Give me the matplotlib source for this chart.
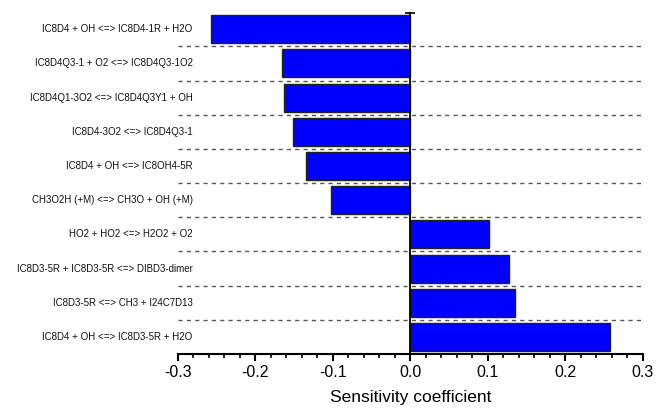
import matplotlib.pyplot as plt
from matplotlib.ticker import MultipleLocator

# reactions, top to bottom
reactions = [
    "IC8D4 + OH <=> IC8D4-1R + H2O",
    "IC8D4Q3-1 + O2 <=> IC8D4Q3-1O2",
    "IC8D4Q1-3O2 <=> IC8D4Q3Y1 + OH",
    "IC8D4-3O2 <=> IC8D4Q3-1",
    "IC8D4 + OH <=> IC8OH4-5R",
    "CH3O2H (+M) <=> CH3O + OH (+M)",
    "HO2 + HO2 <=> H2O2 + O2",
    "IC8D3-5R + IC8D3-5R <=> DIBD3-dimer",
    "IC8D3-5R <=> CH3 + I24C7D13",
    "IC8D4 + OH <=> IC8D3-5R + H2O",
]
sens = [-0.258, -0.166, -0.163, -0.152, -0.135, -0.102, 0.101, 0.127, 0.135, 0.257]

plt.rcParams['font.family'] = ['Liberation Sans', 'DejaVu Sans']

fig = plt.figure(figsize=(6.56, 4.08), dpi=100)
ax = fig.add_axes([0.2713, 0.1324, 0.7087, 0.8353])

ypos = list(range(len(reactions)))
ax.barh(ypos, sens, height=0.82, color='#0000ff', edgecolor='#222222', linewidth=1.0, zorder=2)

# dashed separators between rows
for i in range(len(reactions) - 1):
    ax.plot([-0.3, 0.3], [i + 0.5, i + 0.5], color='#555555', linestyle=(0, (3, 3)),
            linewidth=1.0, zorder=3)

# row labels
for y, lab in zip(ypos, reactions):
    ax.text(-0.281, y, lab, ha='right', va='center', fontsize=7, color='#111111')

ax.set_xlim(-0.3, 0.3)
ax.set_ylim(9.5, -0.47)

for s in ['top', 'right']:
    ax.spines[s].set_visible(False)
ax.spines['left'].set_position(('data', 0))
ax.spines['left'].set_linewidth(1.3)
ax.spines['left'].set_zorder(4)
ax.spines['bottom'].set_linewidth(1.5)

ax.set_yticks([-0.47])
ax.set_yticklabels([''])
ax.tick_params(axis='y', direction='inout', length=7, width=1.2)

ax.xaxis.set_minor_locator(MultipleLocator(0.02))
ax.set_xticks([-0.3, -0.2, -0.1, 0.0, 0.1, 0.2, 0.3])
ax.set_xticklabels(['-0.3', '-0.2', '-0.1', '0.0', '0.1', '0.2', '0.3'])
ax.tick_params(axis='x', which='major', direction='out', length=5, width=1.5, labelsize=11.5, pad=3)
ax.tick_params(axis='x', which='minor', direction='out', length=3, width=1.2)
ax.set_xlabel('Sensitivity coefficient', fontsize=12.5, labelpad=7)

fig.savefig('out.png', dpi=100)
